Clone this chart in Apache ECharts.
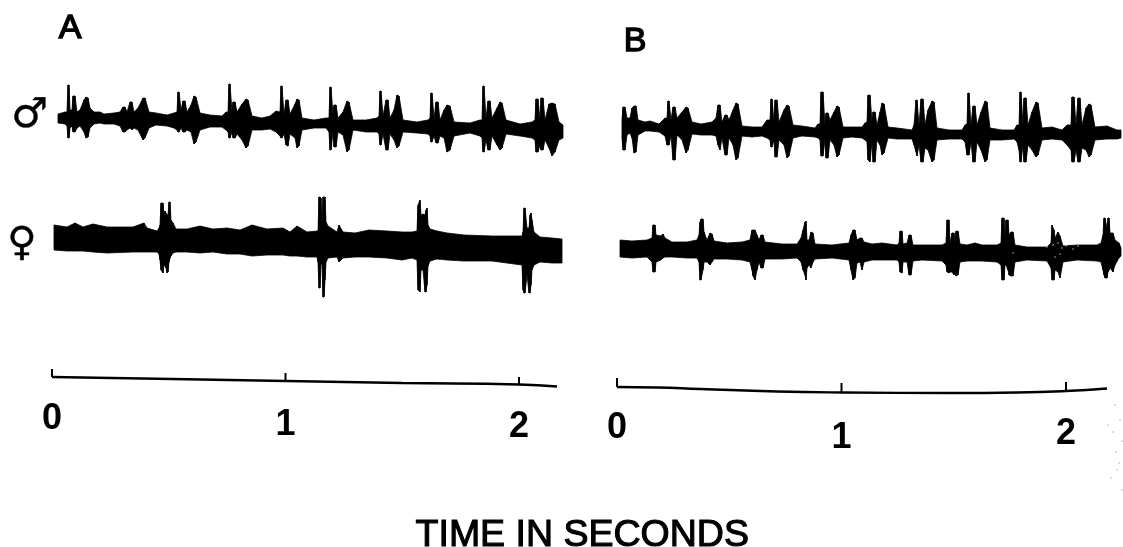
<!DOCTYPE html>
<html><head><meta charset="utf-8">
<style>html,body{margin:0;padding:0;background:#fff}#c{width:1123px;height:547px}</style>
<script src="https://cdn.jsdelivr.net/npm/echarts@6/dist/echarts.min.js"></script>
</head><body><div id="c"></div>
<script>
// Each row: sample number, upper envelope, lower envelope (deflection from the trace's rest level)
const maleA = [[6,6,-3],[13,8,-4],[15,8,-6],[16,35,-18],[17,35,-18],[18,10,-8],[20,10,-6],[21,24,-12],[23,24,-12],[25,8,-8],[28,10,-6],[32,20,-12],[34,23,-18],[36,22,-17],[38,12,-8],[42,8,-4],[48,8,-3],[52,6,-4],[62,7,-4],[68,8,-6],[71,13,-12],[73,13,-12],[75,8,-10],[78,18,-8],[80,18,-10],[82,8,-8],[86,12,-10],[91,22,-20],[93,22,-18],[97,8,-8],[104,7,-5],[115,5,-6],[122,7,-8],[125,8,-10],[126,28,-12],[127,28,-12],[129,10,-8],[131,19,-12],[133,19,-12],[135,8,-10],[139,15,-12],[142,24,-24],[144,23,-22],[148,7,-10],[158,5,-7],[170,4,-7],[174,8,-10],[176,8,-12],[177,36,-18],[178,36,-18],[180,8,-12],[181,18,-18],[183,18,-18],[185,8,-14],[190,16,-20],[194,21,-28],[196,20,-26],[200,4,-10],[210,2,-10],[218,4,-9],[224,9,-12],[228,8,-16],[229,34,-18],[230,34,-18],[232,6,-14],[234,20,-25],[236,20,-26],[238,6,-14],[243,16,-18],[245,21,-28],[247,20,-26],[250,2,-10],[262,0,-8],[274,2,-8],[277,2,-12],[278,33,-30],[279,33,-30],[281,5,-12],[282,15,-27],[284,15,-27],[286,2,-12],[291,8,-15],[295,19,-32],[297,18,-30],[301,0,-10],[314,0,-12],[325,2,-12],[327,4,-14],[328,29,-25],[329,29,-25],[331,4,-14],[334,20,-30],[336,20,-30],[338,2,-14],[342,10,-20],[345,25,-28],[347,24,-26],[351,0,-12],[365,-2,-13],[376,0,-14],[378,2,-16],[379,27,-22],[380,27,-22],[382,2,-16],[384,18,-23],[386,18,-23],[388,0,-16],[392,10,-18],[395,15,-32],[398,14,-30],[402,-2,-16],[418,-3,-13],[428,0,-16],[430,0,-18],[431,34,-32],[432,34,-32],[434,2,-20],[436,19,-30],[438,19,-30],[440,2,-16],[445,12,-25],[448,18,-30],[450,17,-28],[454,0,-14],[468,-4,-16],[480,-2,-18],[483,0,-20],[484,21,-32],[486,21,-32],[488,0,-25],[489,22,-30],[491,22,-30],[493,0,-20],[497,16,-28],[500,17,-36],[503,16,-32],[507,-2,-20],[511,-5,-18]];
const femaleA = [[2,13,-12],[15,11,-13],[23,15,-13],[31,11,-13],[41,14,-14],[55,11,-15],[81,11,-14],[92,15,-14],[95,10,-14],[105,7,-14],[107,10,-16],[108,13,-22],[109,35,-32],[111,35,-35],[112,24,-27],[113,27,-28],[114,25,-30],[115,23,-35],[116,23,-34],[117,36,-24],[118,36,-20],[119,18,-18],[121,15,-15],[124,9,-14],[135,9,-14],[148,12,-15],[161,9,-14],[175,10,-16],[188,8,-16],[200,13,-18],[215,9,-17],[231,10,-17],[238,6,-18],[245,12,-18],[255,6,-19],[265,7,-19],[266,7,-24],[267,41,-50],[268,41,-50],[269,40,-24],[270,8,-27],[271,41,-59],[272,41,-59],[273,41,-42],[274,16,-24],[276,12,-20],[285,6,-19],[287,13,-24],[291,6,-20],[303,5,-19],[317,8,-19],[335,7,-20],[350,6,-22],[360,6,-20],[365,7,-22],[366,33,-52],[368,38,-54],[369,23,-32],[371,24,-32],[373,23,-54],[374,28,-54],[375,30,-47],[376,13,-28],[378,9,-23],[385,7,-21],[395,5,-22],[412,3,-23],[440,2,-23],[470,2,-27],[471,6,-52],[472,30,-55],[473,30,-55],[475,10,-37],[477,10,-55],[478,23,-55],[479,25,-47],[480,18,-32],[482,6,-27],[488,1,-24],[500,0,-25],[510,-1,-25]];
const maleB = [[5,5,-13],[6,18,-25],[8,18,-25],[10,7,-10],[13,7,-8],[15,17,-13],[17,19,-28],[19,19,-27],[21,5,-10],[28,3,-6],[33,4,-6],[42,1,-7],[48,7,-11],[50,7,-20],[51,24,-20],[52,24,-20],[54,5,-11],[56,18,-35],[58,18,-35],[60,7,-10],[65,13,-15],[69,18,-28],[71,17,-25],[75,3,-9],[84,1,-10],[95,3,-10],[99,7,-11],[101,20,-20],[103,20,-25],[105,3,-13],[108,10,-30],[110,10,-30],[112,5,-13],[116,15,-20],[119,22,-35],[121,21,-33],[125,-1,-11],[135,-2,-12],[145,-2,-11],[150,5,-13],[153,5,-15],[154,26,-22],[155,26,-22],[157,3,-15],[158,25,-32],[160,25,-32],[162,3,-15],[167,15,-20],[170,20,-33],[172,19,-31],[176,0,-13],[185,-1,-11],[198,-3,-12],[201,1,-13],[203,1,-15],[204,33,-31],[206,33,-31],[208,0,-15],[209,12,-33],[211,12,-33],[213,5,-15],[217,13,-20],[220,19,-32],[222,18,-30],[226,-2,-13],[235,-2,-12],[245,-2,-13],[248,2,-15],[250,3,-17],[251,30,-35],[253,30,-37],[255,3,-17],[256,13,-37],[258,13,-37],[260,0,-15],[263,13,-20],[265,22,-30],[267,21,-28],[271,-2,-13],[280,-3,-14],[295,-5,-14],[297,0,-20],[299,25,-27],[300,25,-31],[302,0,-20],[304,26,-37],[306,26,-37],[308,0,-23],[311,15,-25],[315,24,-37],[317,23,-35],[320,-3,-15],[332,-5,-14],[345,-5,-14],[348,0,-17],[350,1,-30],[351,32,-30],[352,32,-30],[354,0,-17],[356,19,-37],[358,19,-37],[360,0,-17],[364,13,-25],[368,24,-37],[370,23,-35],[373,-3,-15],[385,-5,-15],[397,-5,-14],[400,0,-17],[402,0,-25],[403,33,-37],[404,33,-37],[406,0,-20],[407,27,-37],[409,27,-37],[411,0,-20],[415,13,-25],[419,23,-32],[421,22,-30],[425,-3,-15],[435,-2,-14],[445,-5,-15],[450,0,-20],[454,0,-25],[455,28,-37],[457,28,-37],[459,0,-25],[461,27,-37],[463,27,-37],[465,0,-23],[469,17,-25],[472,21,-32],[474,20,-30],[478,-2,-15],[490,-1,-14],[500,-5,-14],[504,-5,-13]];
const femaleB = [[3,9,-8],[15,8,-9],[30,9,-8],[35,11,-13],[36,24,-23],[38,24,-23],[39,14,-13],[44,13,-11],[46,15,-9],[48,11,-8],[55,7,-8],[70,7,-9],[80,9,-9],[82,14,-13],[83,27,-31],[84,30,-31],[86,30,-21],[87,17,-13],[90,9,-13],[93,16,-16],[95,15,-13],[97,8,-10],[110,6,-10],[125,7,-11],[133,9,-13],[135,19,-21],[136,19,-27],[138,19,-31],[140,14,-21],[142,9,-13],[144,14,-19],[146,14,-19],[148,7,-10],[165,5,-10],[180,5,-9],[184,11,-13],[186,19,-21],[188,27,-26],[189,28,-31],[190,9,-19],[192,9,-16],[194,17,-19],[196,16,-13],[198,5,-10],[215,4,-9],[232,6,-11],[234,14,-21],[236,19,-31],[238,19,-29],[240,9,-14],[243,11,-13],[245,11,-21],[247,7,-13],[255,5,-11],[265,6,-11],[280,4,-11],[282,6,-13],[283,18,-23],[285,18,-24],[286,5,-13],[290,6,-13],[292,14,-26],[294,14,-26],[296,4,-12],[305,4,-11],[325,4,-12],[329,6,-16],[330,29,-23],[332,29,-24],[333,6,-23],[335,16,-23],[337,16,-26],[338,6,-24],[339,18,-27],[341,18,-26],[343,5,-13],[350,4,-12],[358,6,-12],[365,4,-12],[380,4,-13],[384,6,-16],[385,31,-31],[387,31,-31],[388,6,-16],[389,29,-16],[391,29,-21],[392,14,-26],[394,17,-27],[396,17,-27],[398,4,-13],[410,2,-11],[430,2,-12],[434,6,-19],[435,24,-31],[437,19,-31],[438,11,-21],[441,17,-23],[443,13,-29],[446,3,-13],[460,4,-11],[480,4,-12],[484,6,-13],[486,14,-21],[487,31,-26],[488,31,-29],[490,21,-29],[491,31,-23],[492,31,-21],[493,16,-19],[496,16,-23],[498,9,-16],[502,6,-9],[504,1,-7]];
// White drop-outs in the last female trace: sample, deflection
const dropoutsB = [[430,2],[436,4],[438,-8],[441,6],[443,-5],[445,1],[449,3],[456,0],[461,3],[396,-4]];
// Sampling rates of the two records and the rest level of each trace
const rateA = 233.5, rateB = 224.5;
const restLevels = {maleA:-120, femaleA:-238, maleB:-125, femaleB:-249};
// Time scale bars: sample, level
const scaleLineA = [[0,-377],[120,-379],[234,-381],[350,-383],[467,-384.5],[505,-386.5]];
const scaleLineB = [[0,-387],[40,-387.5],[83,-389],[160,-391.5],[226,-392.5],[333,-393],[400,-392.5],[449,-391],[490,-388.5]];
// Scale ticks: seconds, lower level, upper level
const scaleTicksA = [[0,-377,-369],[1,-381,-373],[2,-385,-377]];
const scaleTicksB = [[0,-387,-378],[1,-392,-383],[2,-391,-382]];
// Tick labels: seconds, level
const tickLabelsA = [[0,-419],[1,-425],[2,-427]];
const tickLabelsB = [[0,-428],[1,-438],[2,-434]];
const panelTexts = ['A','B'];
const axisTitle = 'TIME IN SECONDS';
// Scanner dust: sample of panel B, level
const dust = [[503,-420],[496,-432],[505,-441],[499,-452],[502,-463],[494,-478],[505,-490],[498,-405],[500,-470],[491,-425]];

const FONT = '"Liberation Sans", Arial, sans-serif';
function trace(rows, rate, rest, xi) {
  return { type:'custom', xAxisIndex:xi, yAxisIndex:xi, silent:true, clip:false,
    data: rows.map(r => [r[0]/rate, r[1]+rest, r[2]+rest]),
    encode:{x:0,y:[1,2]},
    renderItem(p, api) {
      const i = p.dataIndex; if (i >= rows.length-1) return null;
      const n = rows[i+1];
      const a = api.coord([rows[i][0]/rate, rows[i][1]+rest]), b = api.coord([n[0]/rate, n[1]+rest]);
      const c = api.coord([n[0]/rate, n[2]+rest]), d = api.coord([rows[i][0]/rate, rows[i][2]+rest]);
      return {type:'polygon', shape:{points:[a,b,c,d]}, style:{fill:'#000',stroke:'#000',lineWidth:0.8}};
    }};
}
function scaleBar(rows, rate, xi) {
  return {type:'line', xAxisIndex:xi, yAxisIndex:xi, silent:true, showSymbol:false, smooth:true,
    data: rows.map(r=>[r[0]/rate,r[1]]), lineStyle:{color:'#000',width:2.4}};
}
function ticks(rows, xi) {
  return {type:'custom', xAxisIndex:xi, yAxisIndex:xi, silent:true, data:rows, encode:{x:0,y:[1,2]},
    renderItem(p, api){
      const a=api.coord([api.value(0),api.value(1)]), b=api.coord([api.value(0),api.value(2)]);
      return {type:'line',shape:{x1:a[0],y1:a[1],x2:b[0],y2:b[1]},style:{stroke:'#000',lineWidth:2}};
    }};
}
function tickText(rows, xi) {
  return {type:'scatter', xAxisIndex:xi, yAxisIndex:xi, silent:true, symbolSize:1, itemStyle:{opacity:0}, data:rows,
    label:{show:true, position:'inside', formatter:p=>String(p.value[0]), color:'#000', opacity:1, fontFamily:FONT,
      fontSize:36, fontWeight:'bold'}};
}
function label(text,left,top,size,family,stroke){
  return {type:'text',left,top,silent:true,style:{text,fill:'#000',font:`${size}px ${family||FONT}`,stroke:'#000',lineWidth:stroke==null?1.4:stroke}};
}
const chart = echarts.init(document.getElementById('c'),null,{renderer:'canvas'});
const hiddenY = {type:'value',min:-547,max:0,show:false};
chart.setOption({
  animation:false, backgroundColor:'#fff',
  grid:[{left:52,top:0,width:520,height:547},{left:617,top:0,width:506,height:547}],
  xAxis:[{gridIndex:0,type:'value',min:0,max:520/rateA,show:false},{gridIndex:1,type:'value',min:0,max:506/rateB,show:false}],
  yAxis:[{gridIndex:0,...hiddenY},{gridIndex:1,...hiddenY}],
  series:[
    trace(maleA,rateA,restLevels.maleA,0), trace(femaleA,rateA,restLevels.femaleA,0),
    trace(maleB,rateB,restLevels.maleB,1), trace(femaleB,rateB,restLevels.femaleB,1),
    {type:'scatter',xAxisIndex:1,yAxisIndex:1,silent:true,symbolSize:1.4,itemStyle:{color:'#fff'},
      data:dropoutsB.map(r=>[r[0]/rateB,r[1]+restLevels.femaleB])},
    {type:'scatter',xAxisIndex:1,yAxisIndex:1,silent:true,symbolSize:1.5,itemStyle:{color:'#999'},
      data:dust.map(r=>[r[0]/rateB,r[1]])},
    scaleBar(scaleLineA,rateA,0), scaleBar(scaleLineB,rateB,1),
    ticks(scaleTicksA,0), ticks(scaleTicksB,1),
    tickText(tickLabelsA,0), tickText(tickLabelsB,1)
  ],
  graphic:[
    label(panelTexts[0],58,11,34), label(panelTexts[1],623,24,34),
    label('♂',11,96,41,'"DejaVu Sans"',0.4), label('♀',7,224,40,'"DejaVu Sans"',0.4),
    label(axisTitle,415,516,37.5,null,1.1)
  ]
});
</script></body></html>
